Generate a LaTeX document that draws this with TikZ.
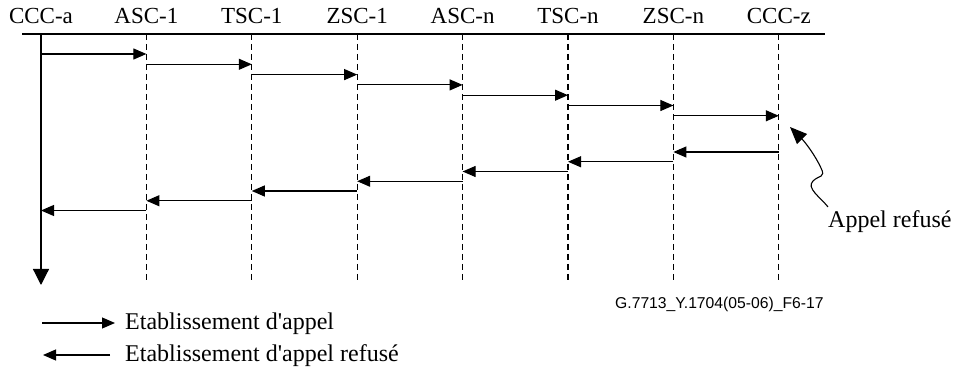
\documentclass[tikz,border=0pt]{standalone}
\usepackage{fontspec}
\setmainfont{Liberation Serif}
\newfontfamily\labelsans{Liberation Sans}
\usetikzlibrary{arrows.meta}
\begin{document}
\begin{tikzpicture}[x=1pt,y=-1pt,
  hdr/.style={font=\fontsize{23}{27}\selectfont, anchor=base, inner sep=0pt},
  txt/.style={font=\fontsize{24}{28}\selectfont, anchor=base west, inner sep=0pt},
  msg/.style={line width=1.1pt, -{Triangle[length=13pt,width=11pt]}},
  lifeline/.style={line width=1.2pt, dash pattern=on 6pt off 4pt},
  mainline/.style={line width=1.2pt, -{Triangle[length=16pt,width=16pt]}},
  topline/.style={line width=1.3pt}]
\useasboundingbox (0,0) rectangle (954,371);
% top rule
\coordinate (ruleL) at (22,34);
\coordinate (ruleR) at (825,34);
\draw[topline] (ruleL) -- (ruleR);
% headers and lifelines
\foreach \t [count=\i from 0] in {CCC-a,ASC-1,TSC-1,ZSC-1,ASC-n,TSC-n,ZSC-n,CCC-z}{
  \pgfmathsetmacro{\xx}{41+105.4*\i}
  \node[hdr] (h\i) at (\xx,24) {\t};
  \coordinate (top\i) at (\xx,34);
  \coordinate (bot\i) at (\xx,283);
}
\draw[mainline] (top0) -- (bot0 |- 0,285);
\foreach \i in {1,...,7}{
  \draw[lifeline] (top\i) -- (bot\i);
}
% forward messages
\foreach \i in {0,...,6}{
  \pgfmathtruncatemacro{\j}{\i+1}
  \pgfmathsetmacro{\yy}{54+10.3*\i}
  \draw[msg] (top\i |- 0,\yy) -- (top\j |- 0,\yy);
}
% backward messages
\foreach \k in {0,...,6}{
  \pgfmathtruncatemacro{\a}{7-\k}
  \pgfmathtruncatemacro{\b}{6-\k}
  \pgfmathsetmacro{\yy}{152+9.75*\k}
  \draw[msg] (top\a |- 0,\yy) -- (top\b |- 0,\yy);
}
% Appel refuse
\node[txt] (refuse) at (828,228) {Appel refusé};
\coordinate (refTip) at (790,127);
\draw[line width=1.1pt, -{Triangle[length=17pt,width=14pt]}]
  (refuse.north west) ++(0,-4) coordinate (refStart)
  (refStart) .. controls (820,197) and (806,188) .. (813,181)
  .. controls (819,175) and (826,178) .. (821,168)
  .. controls (815,155) and (805,142) .. (refTip);
% figure id
\node[font=\labelsans\fontsize{15.7}{18}\selectfont, anchor=base west, inner sep=0pt] (figid) at (615,309) {G.7713\_Y.1704(05-06)\_F6-17};
% legend
\coordinate (lg1a) at (42,323);
\coordinate (lg1b) at (115,323);
\coordinate (lg2a) at (110,355);
\coordinate (lg2b) at (43,355);
\draw[msg] (lg1a) -- (lg1b);
\draw[msg] (lg2a) -- (lg2b);
\node[txt] (lg1t) at (125,330) {Etablissement d\textquotesingle appel};
\node[txt] (lg2t) at (125,362) {Etablissement d\textquotesingle appel refusé};
\end{tikzpicture}
\end{document}
